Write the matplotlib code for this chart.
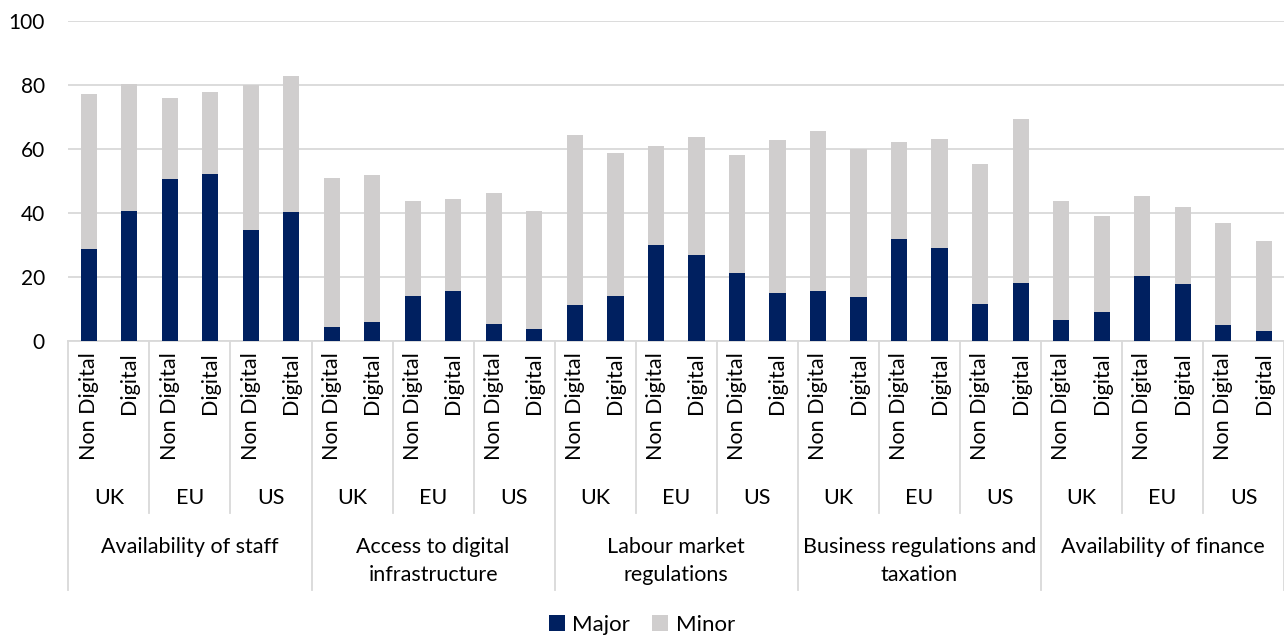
import matplotlib
matplotlib.use("Agg")
import matplotlib.pyplot as plt
import numpy as np

plt.rcParams["font.family"] = ["Lato", "DejaVu Sans"]

groups = ["Availability of staff", "Access to digital\ninfrastructure",
          "Labour market\nregulations", "Business regulations and\ntaxation",
          "Availability of finance"]
regions = ["UK", "EU", "US"]
firm_types = ["Non Digital", "Digital"]

# total (major + minor) share and major share, per bar, in plotting order
total = [77.3, 80.3, 76.0, 77.9, 79.9, 82.7,
         50.8, 51.8, 43.8, 44.3, 46.3, 40.6,
         64.3, 58.8, 60.9, 63.6, 58.1, 62.7,
         65.6, 60.1, 62.1, 63.1, 55.3, 69.3,
         43.8, 39.1, 45.2, 41.8, 36.9, 31.2]
major = [28.8, 40.6, 50.6, 52.3, 34.8, 40.3,
         4.4, 6.0, 14.1, 15.6, 5.2, 3.8,
         11.2, 14.0, 30.0, 27.0, 21.3, 14.9,
         15.6, 13.8, 31.8, 29.1, 11.7, 18.2,
         6.5, 9.1, 20.4, 17.8, 4.9, 3.1]
minor = [t - m for t, m in zip(total, major)]

NAVY = "#002060"
GREY = "#D0CECE"
LINE = "#D9D9D9"
FS = 15.5

W, H = 1284, 636
fig = plt.figure(figsize=(W / 100, H / 100), dpi=100)
ax_h = 320
ax = fig.add_axes([68.4 / W, (H - 341) / H, (W - 68.4) / W, ax_h / H])

n = len(total)
x = np.arange(n)
ax.bar(x, major, width=0.4, color=NAVY, label="Major", zorder=3)
ax.bar(x, minor, width=0.4, bottom=major, color=GREY, label="Minor",
       zorder=3)

ax.set_xlim(-0.5, n - 0.5)
ax.set_ylim(0, 100)
ax.set_yticks(range(0, 101, 20))
ax.tick_params(axis="y", length=0, pad=17, labelsize=15)
ax.set_xticks([])
ax.grid(axis="y", color=LINE, linewidth=1.3, zorder=0)
for s in ["top", "right", "left"]:
    ax.spines[s].set_visible(False)
ax.spines["bottom"].set_color(LINE)
ax.spines["bottom"].set_linewidth(1.3)

# multi-level category axis, drawn below the plot in axes-fraction y
tr = ax.get_xaxis_transform()
def fy(px):
    return -px / ax_h

for i in range(n):
    ax.text(x[i], fy(11), firm_types[i % 2], rotation=90, ha="center",
            va="top", fontsize=FS, transform=tr, clip_on=False)

for k in range(n // 2 + 1):
    xb = 2 * k - 0.5
    end = 249 if k % 3 == 0 else 172
    ax.plot([xb, xb], [0, fy(end)], color=LINE, lw=1.3, transform=tr,
            clip_on=False)

for k in range(n // 2):
    ax.text(2 * k + 0.5, fy(157), regions[k % 3], ha="center",
            va="center", fontsize=FS, transform=tr, clip_on=False)

for g, name in enumerate(groups):
    ax.text(6 * g + 2.5, fy(196), name, ha="center", va="top",
            fontsize=FS, linespacing=1.5, transform=tr, clip_on=False)

fig.legend(loc="center", bbox_to_anchor=(0.5, 1 - 625 / H), ncol=2,
           frameon=False, fontsize=16, handlelength=0.7,
           handleheight=0.7, handletextpad=0.35, columnspacing=1.0)

fig.savefig("out.png", dpi=100)
